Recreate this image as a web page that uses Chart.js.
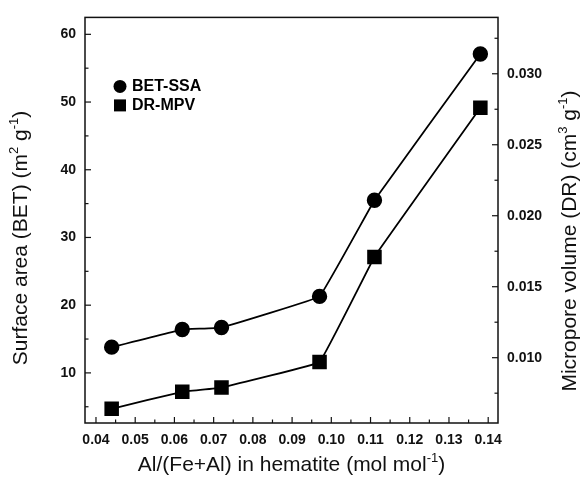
<!DOCTYPE html>
<html>
<head>
<meta charset="utf-8">
<script src="https://cdn.jsdelivr.net/npm/chart.js@4"></script>
<style>
  html, body { margin:0; padding:0; background:#fff; }
  #wrap { position:relative; width:581px; height:477px; }
</style>
</head>
<body>
<div id="wrap"><canvas id="c" width="581" height="477"></canvas></div>
<script>
// values
const alFrac = [0.044, 0.062, 0.072, 0.097, 0.111, 0.138];
const betSSA = [13.8, 16.4, 16.7, 21.3, 35.5, 57.1];
const drMPV = [0.0064, 0.0076, 0.0079, 0.0097, 0.0171, 0.0276];

const xTicks = [0.04, 0.05, 0.06, 0.07, 0.08, 0.09, 0.10, 0.11, 0.12, 0.13, 0.14];
const leftTicks = [10, 20, 30, 40, 50, 60];
const rightTicks = [0.010, 0.015, 0.020, 0.025, 0.030];

// axis titles as [text, superscript?] pieces
const xTitle = [['Al/(Fe+Al) in hematite (mol mol', 0], ['-1', 1], [')', 0]];
const yTitle = [['Surface area (BET) (m', 0], ['2', 1], [' g', 0], ['-1', 1], [')', 0]];
const y1Title = [['Micropore volume (DR) (cm', 0], ['3', 1], [' g', 0], ['-1', 1], [')', 0]];

const FAM = 'Liberation Sans, Arial, sans-serif';
const tickFont = { family: FAM, size: 14, weight: 'bold' };

function richText(ctx, parts, cx, cy, rot) {
  const big = '21px ' + FAM, small = '13px ' + FAM;
  let w = 0;
  parts.forEach(([t, s]) => { ctx.font = s ? small : big; w += ctx.measureText(t).width; });
  ctx.save();
  ctx.translate(cx, cy);
  ctx.rotate(rot);
  ctx.textBaseline = 'middle';
  ctx.fillStyle = '#111';
  let x = -w / 2;
  parts.forEach(([t, s]) => {
    ctx.font = s ? small : big;
    ctx.fillText(t, x, s ? -7 : 0);
    x += ctx.measureText(t).width;
  });
  ctx.restore();
}

// frame, inward tick marks (major + minor), titles and legend
const framePlugin = {
  id: 'frame',
  afterDraw(chart) {
    const ctx = chart.ctx, a = chart.chartArea;
    ctx.save();
    ctx.strokeStyle = '#111';
    ctx.lineWidth = 1.5;
    ctx.strokeRect(a.left, a.top, a.right - a.left, a.bottom - a.top);

    const marks = (scale, vals, side) => {
      const minors = [];
      for (let i = 0; i < vals.length; i++) {
        const step = i + 1 < vals.length ? vals[i + 1] - vals[i] : vals[i] - vals[i - 1];
        minors.push(vals[i] - step / 2);
        if (i === vals.length - 1) minors.push(vals[i] + step / 2);
      }
      const draw = (v, len) => {
        if (v < scale.min || v > scale.max) return;
        const p = scale.getPixelForValue(v);
        ctx.beginPath();
        if (side === 'bottom') { ctx.moveTo(p, a.bottom); ctx.lineTo(p, a.bottom - len); }
        if (side === 'left') { ctx.moveTo(a.left, p); ctx.lineTo(a.left + len, p); }
        if (side === 'right') { ctx.moveTo(a.right, p); ctx.lineTo(a.right - len, p); }
        ctx.stroke();
      };
      vals.forEach(v => draw(v, 6));
      minors.forEach(v => draw(v, 3.5));
    };
    ctx.lineWidth = 1.2;
    marks(chart.scales.x, xTicks, 'bottom');
    marks(chart.scales.y, leftTicks, 'left');
    marks(chart.scales.y1, rightTicks, 'right');

    richText(ctx, xTitle, (a.left + a.right) / 2, 465, 0);
    richText(ctx, yTitle, 21, 238, -Math.PI / 2);
    richText(ctx, y1Title, 570, 241, -Math.PI / 2);

    // legend
    const lx = a.left + 35, ly = a.top + 69;
    ctx.fillStyle = '#000';
    ctx.beginPath(); ctx.arc(lx, ly, 6.5, 0, Math.PI * 2); ctx.fill();
    ctx.fillRect(lx - 6, ly + 19 - 6, 12, 12);
    ctx.font = 'bold 16px ' + FAM;
    ctx.textBaseline = 'middle';
    ctx.fillText('BET-SSA', lx + 12, ly);
    ctx.fillText('DR-MPV', lx + 12, ly + 19);
    ctx.restore();
  }
};

new Chart(document.getElementById('c'), {
  type: 'line',
  data: {
    datasets: [
      {
        label: 'BET-SSA',
        data: alFrac.map((x, i) => ({ x, y: betSSA[i] })),
        yAxisID: 'y',
        borderColor: '#000', backgroundColor: '#000', borderWidth: 1.8,
        pointStyle: 'circle', pointRadius: 6.8, tension: 0.05
      },
      {
        label: 'DR-MPV',
        data: alFrac.map((x, i) => ({ x, y: drMPV[i] })),
        yAxisID: 'y1',
        borderColor: '#000', backgroundColor: '#000', borderWidth: 1.8,
        pointStyle: 'rect', pointRadius: 9, tension: 0.05
      }
    ]
  },
  options: {
    responsive: false,
    animation: false,
    layout: { padding: { top: 13, left: 0, right: 0, bottom: 0 } },
    plugins: { legend: { display: false }, tooltip: { enabled: false } },
    scales: {
      x: {
        type: 'linear', min: 0.0372, max: 0.1425,
        afterBuildTicks: s => { s.ticks = xTicks.map(v => ({ value: v })); },
        afterFit: s => { s.height = 54; },
        grid: { display: false, drawTicks: false },
        border: { display: false },
        ticks: { color: '#111', font: tickFont, padding: 9, maxRotation: 0, callback: v => v.toFixed(2) }
      },
      y: {
        type: 'linear', position: 'left', min: 2.6, max: 62.5,
        afterBuildTicks: s => { s.ticks = leftTicks.map(v => ({ value: v })); },
        afterFit: s => { s.width = 85; },
        grid: { display: false, drawTicks: false },
        border: { display: false },
        ticks: { color: '#111', font: tickFont, padding: 9 }
      },
      y1: {
        type: 'linear', position: 'right', min: 0.0054, max: 0.03397,
        afterBuildTicks: s => { s.ticks = rightTicks.map(v => ({ value: v })); },
        afterFit: s => { s.width = 83; },
        grid: { display: false, drawTicks: false },
        border: { display: false },
        ticks: { color: '#111', font: tickFont, padding: 9, callback: v => v.toFixed(3) }
      }
    }
  },
  plugins: [framePlugin]
});
</script>
</body>
</html>
